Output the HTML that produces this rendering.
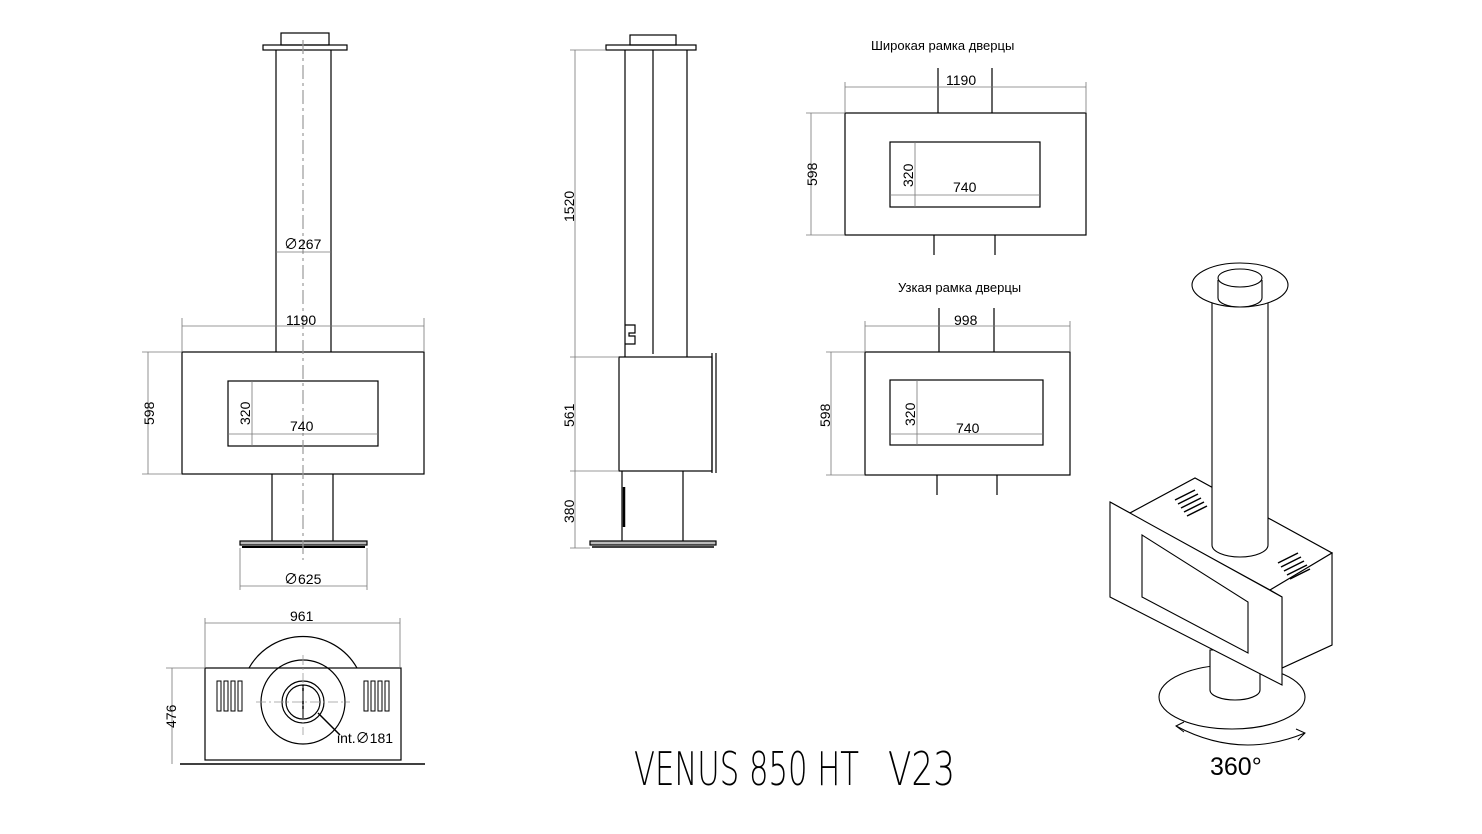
<!DOCTYPE html>
<html><head><meta charset="utf-8"><style>
html,body{margin:0;padding:0;background:#fff}
svg{display:block}
text{font-family:"Liberation Sans","Noto Sans CJK SC",sans-serif;fill:#000}
</style></head><body>
<svg width="1482" height="834" viewBox="0 0 1482 834" xmlns="http://www.w3.org/2000/svg">
<g fill="none" stroke="#000" stroke-width="1.2">
<rect x="281" y="33" width="48" height="12"/>
<rect x="263" y="45" width="84" height="5"/>
<line x1="276" y1="50" x2="276" y2="352"/><line x1="331" y1="50" x2="331" y2="352"/>
<rect x="182" y="352" width="242" height="122"/>
<rect x="228" y="381" width="150" height="65"/>
<line x1="272" y1="474" x2="272" y2="541"/><line x1="333" y1="474" x2="333" y2="541"/>
<rect x="240" y="541" width="127" height="4" fill="#bbb"/>
<line x1="242" y1="547" x2="365" y2="547" stroke-width="2"/>
<line x1="303" y1="40" x2="303" y2="560" stroke="#999" stroke-dasharray="14,4,3,4"/>
</g>
<g fill="none" stroke="#777" stroke-width="0.8">
<line x1="182" y1="326" x2="424" y2="326"/><line x1="182" y1="318" x2="182" y2="352"/><line x1="424" y1="318" x2="424" y2="352"/>
<line x1="148" y1="352" x2="148" y2="474"/><line x1="142" y1="352" x2="182" y2="352"/><line x1="142" y1="474" x2="182" y2="474"/>
<line x1="252" y1="381" x2="252" y2="446"/>
<line x1="228" y1="434" x2="378" y2="434"/>
<line x1="276" y1="252" x2="331" y2="252"/>
<line x1="240" y1="586" x2="367" y2="586"/><line x1="240" y1="548" x2="240" y2="590"/><line x1="367" y1="548" x2="367" y2="590"/>
</g>
<g font-size="14">
<text x="286" y="325">1190</text>
<text x="290" y="431">740</text>
<text x="284" y="249">∅267</text>
<text x="284" y="584">∅625</text>
<text transform="translate(154,425) rotate(-90)">598</text>
<text transform="translate(250,425) rotate(-90)">320</text>
</g>

<g fill="none" stroke="#000" stroke-width="1.2">
<rect x="630" y="35" width="46" height="10"/>
<rect x="606" y="45" width="90" height="5"/>
<line x1="625" y1="50" x2="625" y2="357"/><line x1="687" y1="50" x2="687" y2="357"/><line x1="653" y1="50" x2="653" y2="354"/>
<path d="M625 325 h10 v8 h-6 v3 h6 v8 h-10"/>
<rect x="619" y="357" width="93" height="114"/>
<line x1="712" y1="353" x2="712" y2="473"/><line x1="716" y1="353" x2="716" y2="473"/>
<line x1="622" y1="471" x2="622" y2="541"/><line x1="683" y1="471" x2="683" y2="541"/>
<line x1="624" y1="487" x2="624" y2="527" stroke-width="2.5"/>
<rect x="590" y="541" width="126" height="4" fill="#bbb"/>
<line x1="592" y1="547" x2="714" y2="547" stroke-width="1.5"/>
</g>
<g fill="none" stroke="#777" stroke-width="0.8">
<line x1="575" y1="50" x2="575" y2="548"/>
<line x1="570" y1="50" x2="606" y2="50"/><line x1="570" y1="357" x2="619" y2="357"/><line x1="570" y1="471" x2="619" y2="471"/><line x1="570" y1="548" x2="590" y2="548"/>
</g>
<g font-size="14">
<text transform="translate(574,222) rotate(-90)">1520</text>
<text transform="translate(574,427) rotate(-90)">561</text>
<text transform="translate(574,523) rotate(-90)">380</text>
</g>

<text x="871" y="50" font-size="13">Широкая рамка дверцы</text>
<g fill="none" stroke="#000" stroke-width="1.2">
<rect x="845" y="113" width="241" height="122"/>
<rect x="890" y="142" width="150" height="65"/>
<line x1="938" y1="68" x2="938" y2="113"/><line x1="992" y1="68" x2="992" y2="113"/>
<line x1="934" y1="235" x2="934" y2="255"/><line x1="995" y1="235" x2="995" y2="255"/>
</g>
<g fill="none" stroke="#777" stroke-width="0.8">
<line x1="845" y1="87" x2="1086" y2="87"/><line x1="845" y1="82" x2="845" y2="113"/><line x1="1086" y1="82" x2="1086" y2="113"/>
<line x1="811" y1="113" x2="811" y2="235"/><line x1="806" y1="113" x2="845" y2="113"/><line x1="806" y1="235" x2="845" y2="235"/>
<line x1="915" y1="142" x2="915" y2="207"/><line x1="890" y1="195" x2="1040" y2="195"/>
</g>
<g font-size="14">
<text x="946" y="85">1190</text><text x="953" y="192">740</text>
<text transform="translate(817,186) rotate(-90)">598</text>
<text transform="translate(913,187) rotate(-90)">320</text>
</g>

<text x="898" y="292" font-size="13">Узкая рамка дверцы</text>
<g fill="none" stroke="#000" stroke-width="1.2">
<rect x="865" y="352" width="205" height="123"/>
<rect x="890" y="380" width="153" height="65"/>
<line x1="939" y1="308" x2="939" y2="352"/><line x1="994" y1="308" x2="994" y2="352"/>
<line x1="937" y1="475" x2="937" y2="495"/><line x1="997" y1="475" x2="997" y2="495"/>
</g>
<g fill="none" stroke="#777" stroke-width="0.8">
<line x1="865" y1="326" x2="1070" y2="326"/><line x1="865" y1="321" x2="865" y2="352"/><line x1="1070" y1="321" x2="1070" y2="352"/>
<line x1="831" y1="352" x2="831" y2="475"/><line x1="826" y1="352" x2="865" y2="352"/><line x1="826" y1="475" x2="865" y2="475"/>
<line x1="917" y1="380" x2="917" y2="445"/><line x1="890" y1="434" x2="1043" y2="434"/>
</g>
<g font-size="14">
<text x="954" y="325">998</text><text x="956" y="433">740</text>
<text transform="translate(830,427) rotate(-90)">598</text>
<text transform="translate(915,426) rotate(-90)">320</text>
</g>

<g fill="none" stroke="#000" stroke-width="1.2">
<path d="M249 668 A62 62 0 0 1 357 668"/>
<rect x="205" y="668" width="196" height="92"/>
<circle cx="303" cy="702" r="42"/>
<circle cx="303" cy="702" r="21"/>
<circle cx="303" cy="702" r="17"/>
<line x1="303" y1="685" x2="303" y2="719" stroke-width="1.5"/>
<line x1="318" y1="713" x2="340" y2="735" stroke-width="1.5"/>
<g stroke-width="1">
<rect x="217" y="681" width="4" height="30"/><rect x="224" y="681" width="4" height="30"/><rect x="231" y="681" width="4" height="30"/><rect x="238" y="681" width="4" height="30"/>
<rect x="364" y="681" width="4" height="30"/><rect x="371" y="681" width="4" height="30"/><rect x="378" y="681" width="4" height="30"/><rect x="385" y="681" width="4" height="30"/>
</g>
<line x1="180" y1="764" x2="425" y2="764" stroke-width="1.5"/>
</g>
<g fill="none" stroke="#999" stroke-width="0.8" stroke-dasharray="10,3,2,3">
<line x1="256" y1="702" x2="350" y2="702"/><line x1="303" y1="655" x2="303" y2="735"/>
</g>
<g fill="none" stroke="#777" stroke-width="0.8">
<line x1="205" y1="623" x2="400" y2="623"/><line x1="205" y1="618" x2="205" y2="668"/><line x1="400" y1="618" x2="400" y2="668"/>
<line x1="172" y1="668" x2="172" y2="764"/><line x1="166" y1="668" x2="205" y2="668"/>
</g>
<g font-size="14">
<text x="290" y="621">961</text>
<text x="337" y="743">int.∅181</text>
<text transform="translate(176,728) rotate(-90)">476</text>
</g>

<text x="634" y="785" font-size="46" textLength="225" lengthAdjust="spacingAndGlyphs" style="font-family:'DejaVu Sans',sans-serif;font-weight:200">VENUS 850 HT</text>
<text x="888" y="785" font-size="46" textLength="67" lengthAdjust="spacingAndGlyphs" style="font-family:'DejaVu Sans',sans-serif;font-weight:200">V23</text>

<g fill="#fff" stroke="#000" stroke-width="1.1">
<ellipse cx="1232" cy="697" rx="73" ry="32"/>
<path d="M1210 650 L1210 690 A25 10 0 0 0 1260 690 L1260 650 Z"/>
<path d="M1130 513 L1195 478 L1332 553 L1332 645 L1282 668 L1282 597 L1110 502 Z"/>
<polygon points="1130,513 1195,478 1332,553 1270,590 1120,508"/>
<polygon points="1270,590 1332,553 1332,645 1282,668 1282,597"/>
<path d="M1212 300 L1212 545 A28 12 0 0 0 1268 545 L1268 300"/>
<ellipse cx="1240" cy="285" rx="48" ry="22"/>
<path d="M1218 280 L1218 298 A22 9 0 0 0 1262 298 L1262 280"/>
<ellipse cx="1240" cy="278" rx="22" ry="9"/>
<polygon points="1110,502 1282,597 1282,685 1110,597"/>
<polygon points="1142,535 1248,602 1248,653 1142,597"/>
</g>
<g stroke="#000" stroke-width="1.5">
<line x1="1175" y1="500" x2="1195" y2="490"/><line x1="1178" y1="504" x2="1198" y2="494"/><line x1="1181" y1="508" x2="1201" y2="498"/><line x1="1184" y1="512" x2="1204" y2="502"/><line x1="1187" y1="516" x2="1207" y2="506"/>
<line x1="1278" y1="563" x2="1298" y2="553"/><line x1="1281" y1="567" x2="1301" y2="557"/><line x1="1284" y1="571" x2="1304" y2="561"/><line x1="1287" y1="575" x2="1307" y2="565"/><line x1="1290" y1="579" x2="1310" y2="569"/>
</g>
<g fill="none" stroke="#000" stroke-width="1">
<path d="M1176 726 Q1240 760 1305 733"/>
<path d="M1184 722 L1176 726 L1184 732"/>
<path d="M1296 729 L1305 733 L1298 740"/>
</g>
<text x="1210" y="775" font-size="25">360°</text>
</svg>
</body></html>
